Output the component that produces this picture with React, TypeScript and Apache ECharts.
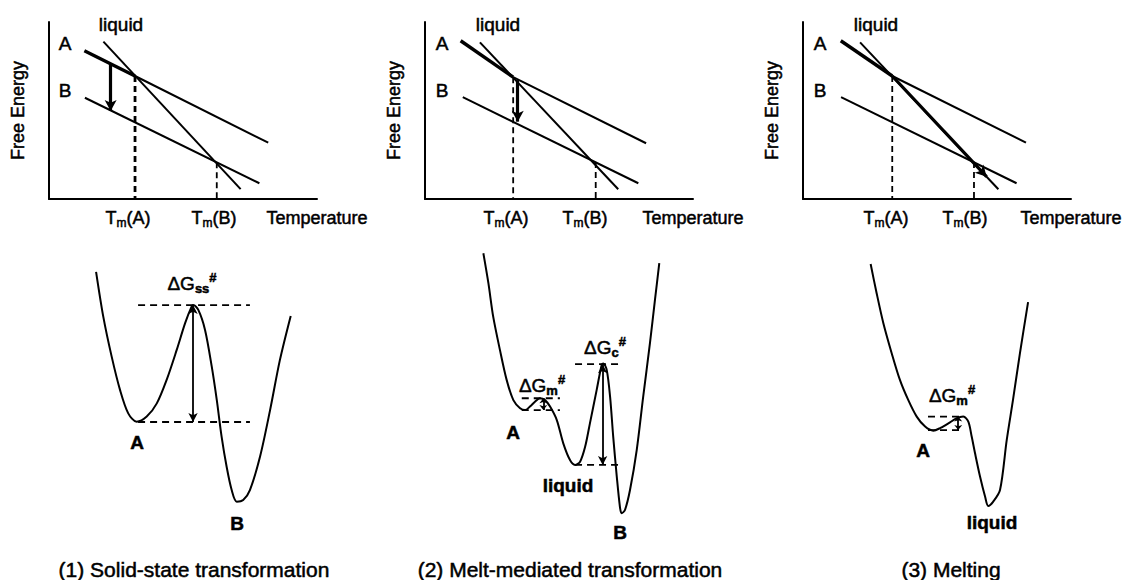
import React, { useEffect, useRef } from "react";
import * as echarts from "echarts";

// ---------- top panels: free energy vs temperature (arbitrary units 0-100) ----------
const aStart = [[13.2, 83.8], [13.3, 89.4], [14.1, 89.4]];
const meltA = [[32.1, 69.5], [32.9, 68.8], [33.3, 69.5]]; // Tm(A): A crosses liquid
const aEnd = [[81.8, 31.8], [82.5, 31.5], [83.2, 31.8]];
const bStart = [[13.4, 57.2], [14.1, 57.5], [14.2, 57.6]];
const bEnd = [[78.5, 8.9], [79.6, 8.9], [79.7, 8.9]];
const liqStart = [[20.3, 88.9], [20.5, 88.5], [21.3, 88.5]];
const liqEnd = [[71.5, 5.6], [72.1, 5.5], [72.9, 5.5]];
const meltB = [[62.6, 20.7], [63.7, 20.9], [63.8, 20.9]]; // Tm(B): B crosses liquid
const pathFrom = [[23.0, 76.4], [34.6, 67.2], [33.3, 69.5]];
const pathTo = [[23.0, 49.7], [34.6, 43.7], [68.5, 12.6]];
const tmLabels = ["A", "B"];

// ---------- bottom panels: energy landscapes (arbitrary units 0-100) ----------
const curve1 = [
  [6.7, 91.9], [9.7, 75.3], [13.2, 60.5], [16.7, 48.1], [20.1, 39.5], [23.6, 36.4],
  [27.8, 38.3], [32.0, 43.2], [36.1, 51.9], [40.3, 63.0], [43.8, 72.9], [46.5, 79.0],
  [47.2, 79.6], [49.3, 77.8], [52.1, 70.4], [54.9, 56.8], [57.0, 44.4], [59.0, 30.9],
  [61.1, 19.7], [63.2, 11.1], [65.3, 6.8], [68.0, 7.4], [70.8, 11.1], [75.0, 23.4],
  [79.2, 40.7], [83.3, 59.3], [87.8, 75.6],
];
const curve2 = [
  [13.9, 98.8], [16.0, 87.7], [18.0, 75.3], [20.8, 63.0], [23.6, 51.9], [26.4, 44.4],
  [29.2, 41.4], [31.3, 40.7], [33.3, 42.0], [35.4, 43.8], [37.5, 45.1], [39.6, 44.4],
  [41.7, 42.0], [44.5, 37.0], [47.2, 28.4], [50.0, 22.2], [52.1, 20.4], [54.2, 21.6],
  [56.3, 27.1], [58.3, 35.8], [61.1, 48.1], [63.2, 57.4], [63.9, 58.0], [65.3, 55.6],
  [66.7, 45.7], [68.0, 30.9], [69.5, 16.0], [70.8, 4.9], [71.5, 2.5], [72.9, 3.7],
  [75.0, 11.1], [77.8, 25.9], [80.5, 45.7], [83.3, 65.4], [85.4, 81.5], [87.2, 95.1],
];
const curve3 = [
  [21.1, 94.8], [23.6, 84.0], [26.4, 72.9], [29.9, 61.7], [33.3, 51.9], [36.8, 44.4],
  [40.3, 38.3], [43.8, 34.6], [47.2, 33.1], [50.0, 34.0], [53.5, 35.8], [57.0, 37.7],
  [59.7, 38.3], [61.8, 36.4], [63.2, 30.9], [64.6, 24.7], [66.7, 16.0], [68.8, 8.6],
  [70.1, 5.2], [72.1, 6.7], [75.0, 11.1], [77.8, 29.6], [80.4, 44.4], [83.3, 61.7],
  [86.7, 80.7],
];
// barrier levels: [panel, top level, bottom level, x from, x to, arrow x]
const barriers = [
  [0, 79.6, 36.3, 24.2, 70.8, 47.1],
  [1, 57.7, 20.4, 52.1, 71.5, 63.6],
  [1, 45.1, 40.7, 29.9, 45.8, 38.9],
  [2, 38.3, 33.3, 45.0, 59.0, 57.6],
];
const captions = ["(1) Solid-state transformation", "(2) Melt-mediated transformation", "(3) Melting"];

const FONT = "'Liberation Sans', Arial, Helvetica, sans-serif";
const topLeft = [49, 425, 803];
const botLeft = [80, 450, 820];
const LW = 2;

function seg(idx: number, data: number[][], width: number, type: any = "solid", smooth: any = false) {
  return {
    type: "line", xAxisIndex: idx, yAxisIndex: idx, data, showSymbol: false, symbol: "none",
    smooth, silent: true, lineStyle: { color: "#000", width, type }, z: 3,
  };
}
function arrow(idx: number, from: number[], to: number[], width: number, both: boolean, size: number[]) {
  return {
    type: "line", xAxisIndex: idx, yAxisIndex: idx, data: [], silent: true,
    markLine: {
      silent: true, animation: false,
      symbol: both ? ["arrow", "arrow"] : ["none", "arrow"], symbolSize: size,
      label: { show: false },
      lineStyle: { color: "#000", width, type: "solid" },
      emphasis: { disabled: true },
      data: [[{ coord: from }, { coord: to }]],
    },
  };
}
function txt(x: number, y: number, text: string, size: number, weight: any = "normal", rich?: any) {
  return {
    type: "text", x, y, silent: true,
    style: {
      text, fill: "#000", font: `${weight} ${size}px ${FONT}`, align: "center", verticalAlign: "middle",
      stroke: "#000", lineWidth: 0.5, rich,
    },
  };
}

export default function App() {
  const ref = useRef<HTMLDivElement>(null);
  useEffect(() => {
    document.body.style.margin = "0";
    const chart = echarts.init(ref.current!, null, { renderer: "svg" });
    const grids: any[] = [];
    const xAxes: any[] = [];
    const yAxes: any[] = [];
    const series: any[] = [];
    const axisLine = { show: true, onZero: false, lineStyle: { color: "#000", width: 2 } };
    for (let i = 0; i < 3; i++) {
      grids.push({ left: topLeft[i], top: 22, width: 268, height: 177 });
      xAxes.push({ gridIndex: i, type: "value", min: 0, max: 100, axisLine, axisTick: { show: false }, axisLabel: { show: false }, splitLine: { show: false } });
      yAxes.push({
        gridIndex: i, type: "value", min: 0, max: 100, axisLine, axisTick: { show: false }, axisLabel: { show: false }, splitLine: { show: false },
        name: "Free Energy", nameLocation: "middle", nameGap: 22, nameRotate: 90,
        nameTextStyle: { color: "#000", fontSize: 18, fontFamily: FONT, textBorderColor: "#000", textBorderWidth: 0.5 },
      });
    }
    for (let i = 0; i < 3; i++) {
      grids.push({ left: botLeft[i], top: 250, width: 240, height: 270 });
      xAxes.push({ gridIndex: 3 + i, type: "value", min: 0, max: 100, show: false });
      yAxes.push({ gridIndex: 3 + i, type: "value", min: 0, max: 100, show: false });
    }
    for (let i = 0; i < 3; i++) {
      series.push(seg(i, [aStart[i], meltA[i]], 3.4));
      series.push(seg(i, [meltA[i], aEnd[i]], LW));
      series.push(seg(i, [bStart[i], bEnd[i]], LW));
      series.push(seg(i, [liqStart[i], liqEnd[i]], LW));
      series.push(seg(i, [meltA[i], [meltA[i][0], 0]], i === 0 ? 2.8 : 1.8, [6, 4]));
      series.push(seg(i, [meltB[i], [meltB[i][0], 0]], 1.8, [6, 4]));
      series.push(arrow(i, pathFrom[i], pathTo[i], 3.2, false, [9, 11]));
    }
    const curves = [curve1, curve2, curve3];
    for (let i = 0; i < 3; i++) series.push(seg(3 + i, curves[i], LW, "solid", 0.3));
    barriers.forEach((b) => {
      const [p, hi, lo, x0, x1, ax] = b;
      series.push(seg(3 + p, [[x0, hi], [x1, hi]], 1.8, [7, 5]));
      series.push(seg(3 + p, [[x0, lo], [x1, lo]], 1.8, [7, 5]));
      series.push(arrow(3 + p, [ax, hi], [ax, lo], 1.8, true, hi - lo > 10 ? [7, 9] : [6, 5]));
    });

    const tmRich = {
      n: { fontSize: 18, lineHeight: 22, fontFamily: FONT },
      s: { fontSize: 12, lineHeight: 12, fontFamily: FONT, verticalAlign: "bottom" },
    };
    const dgRich = {
      n: { fontSize: 19, lineHeight: 24, fontFamily: FONT },
      s: { fontSize: 13, lineHeight: 13, fontFamily: FONT, fontWeight: "bold", verticalAlign: "bottom" },
      p: { fontSize: 13, lineHeight: 13, fontFamily: FONT, fontWeight: "bold", verticalAlign: "top" },
    };
    const tmX = [[128, 214], [506, 585], [886, 965]];
    const graphics: any[] = [];
    for (let i = 0; i < 3; i++) {
      const l = topLeft[i];
      graphics.push(txt(l + (i === 0 ? 72 : 73), 24, "liquid", 19));
      graphics.push(txt(l + (i === 0 ? 16 : 17), 43, "A", 19));
      graphics.push(txt(l + (i === 0 ? 16 : 17), 90, "B", 19));
      graphics.push(txt(tmX[i][0], 218, `{n|T}{s|m}{n|(${tmLabels[0]})}`, 18, "normal", tmRich));
      graphics.push(txt(tmX[i][1], 218, `{n|T}{s|m}{n|(${tmLabels[1]})}`, 18, "normal", tmRich));
      graphics.push(txt(l + 268, 218, "Temperature", 18));
      graphics.push(txt([194, 570, 951][i], 569, captions[i], 21));
    }
    graphics.push(txt(192, 283, "{n|ΔG}{s|ss}{p|#}", 19, "normal", dgRich));
    graphics.push(txt(137, 442, "A", 19, "bold"));
    graphics.push(txt(237, 523, "B", 19, "bold"));
    graphics.push(txt(542, 385, "{n|ΔG}{s|m}{p|#}", 19, "normal", dgRich));
    graphics.push(txt(605, 347, "{n|ΔG}{s|c}{p|#}", 19, "normal", dgRich));
    graphics.push(txt(513, 432, "A", 19, "bold"));
    graphics.push(txt(568, 485, "liquid", 19, "bold"));
    graphics.push(txt(620, 532, "B", 19, "bold"));
    graphics.push(txt(952, 395, "{n|ΔG}{s|m}{p|#}", 19, "normal", dgRich));
    graphics.push(txt(923, 450, "A", 19, "bold"));
    graphics.push(txt(992, 522, "liquid", 19, "bold"));

    chart.setOption({
      animation: false,
      backgroundColor: "#fff",
      grid: grids,
      xAxis: xAxes,
      yAxis: yAxes,
      series,
      graphic: graphics,
    });
    return () => chart.dispose();
  }, []);
  return <div ref={ref} style={{ width: 1132, height: 580 }} />;
}
